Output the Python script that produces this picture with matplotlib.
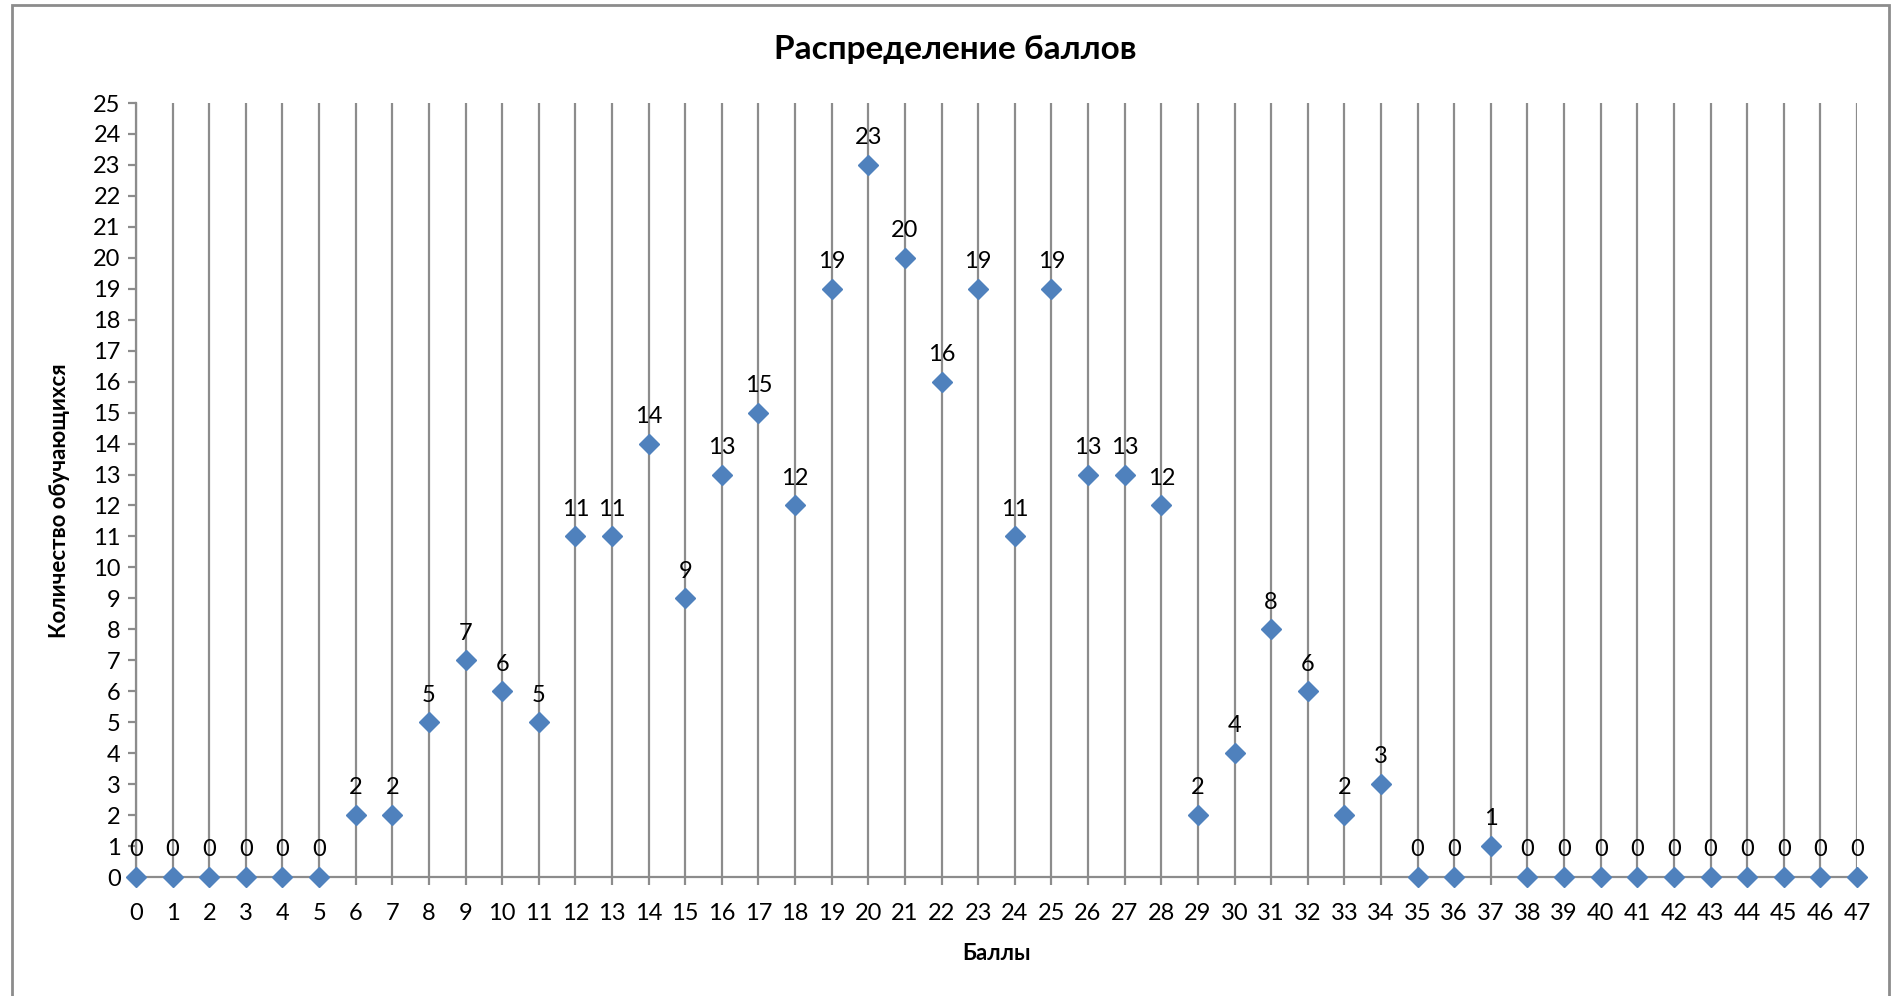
import numpy as np
import matplotlib.pyplot as plt
from matplotlib.patches import Rectangle

plt.rcParams['font.family'] = ['Lato', 'DejaVu Sans']

# Баллы и количество обучающихся
scores = list(range(0, 48))
counts = [0, 0, 0, 0, 0, 0, 2, 2, 5, 7, 6, 5, 11, 11, 14, 9, 13, 15, 12, 19,
          23, 20, 16, 19, 11, 19, 13, 13, 12, 2, 4, 8, 6, 2, 3, 0, 0, 1, 0, 0,
          0, 0, 0, 0, 0, 0, 0, 0]
y_ticks = list(range(0, 26))

title = "Распределение баллов"
x_label = "Баллы"
y_label = "Количество обучающихся"

W, H = 1899, 996
fig = plt.figure(figsize=(W / 100, H / 100), dpi=100)

# рамка области диаграммы
fig.patches.append(Rectangle((12 / W, -0.01), (1889 - 12) / W, 1.0 - 5 / H + 0.01,
                             transform=fig.transFigure, fill=False,
                             edgecolor="#8c8c8c", linewidth=2))

left, right = 136 / W, 1857 / W
bottom, top = 1 - 877 / H, 1 - 103 / H
ax = fig.add_axes([left, bottom, right - left, top - bottom])

ax.set_xlim(0, 47)
ax.set_ylim(0, 25)

grid_col = "#8c8c8c"
for x in scores:
    ax.axvline(x, color=grid_col, linewidth=1.6, zorder=1)

for s in ["top", "right", "bottom"]:
    ax.spines[s].set_visible(False)
ax.spines["left"].set_color(grid_col)
ax.spines["left"].set_linewidth(1.6)
ax.axhline(0, color=grid_col, linewidth=1.6, zorder=1, clip_on=False)

ax.plot(scores, counts, linestyle="none", marker="D", markersize=10,
        color="#4F81BD", zorder=3, clip_on=False)

for x, y in zip(scores, counts):
    ax.annotate(str(y), (x, y), xytext=(0, 12), textcoords="offset points",
                ha="center", va="bottom", fontsize=17, color="black")

ax.set_xticks(scores)
ax.set_yticks(y_ticks)
ax.tick_params(axis="both", colors=grid_col, labelcolor="black",
               labelsize=17, length=6, width=1.6, direction="out")
ax.tick_params(axis="x", pad=13)
ax.tick_params(axis="y", pad=5)

fig.text(955 / W, 1 - 50 / H, title, ha="center", va="center",
         fontsize=24, fontweight="bold")
fig.text(996 / W, 1 - 953 / H, x_label, ha="center", va="center",
         fontsize=16, fontweight="bold")
fig.text(60 / W, 1 - 501 / H, y_label, ha="center", va="center",
         rotation=90, fontsize=16, fontweight="bold")

fig.savefig("out.png", dpi=100)
